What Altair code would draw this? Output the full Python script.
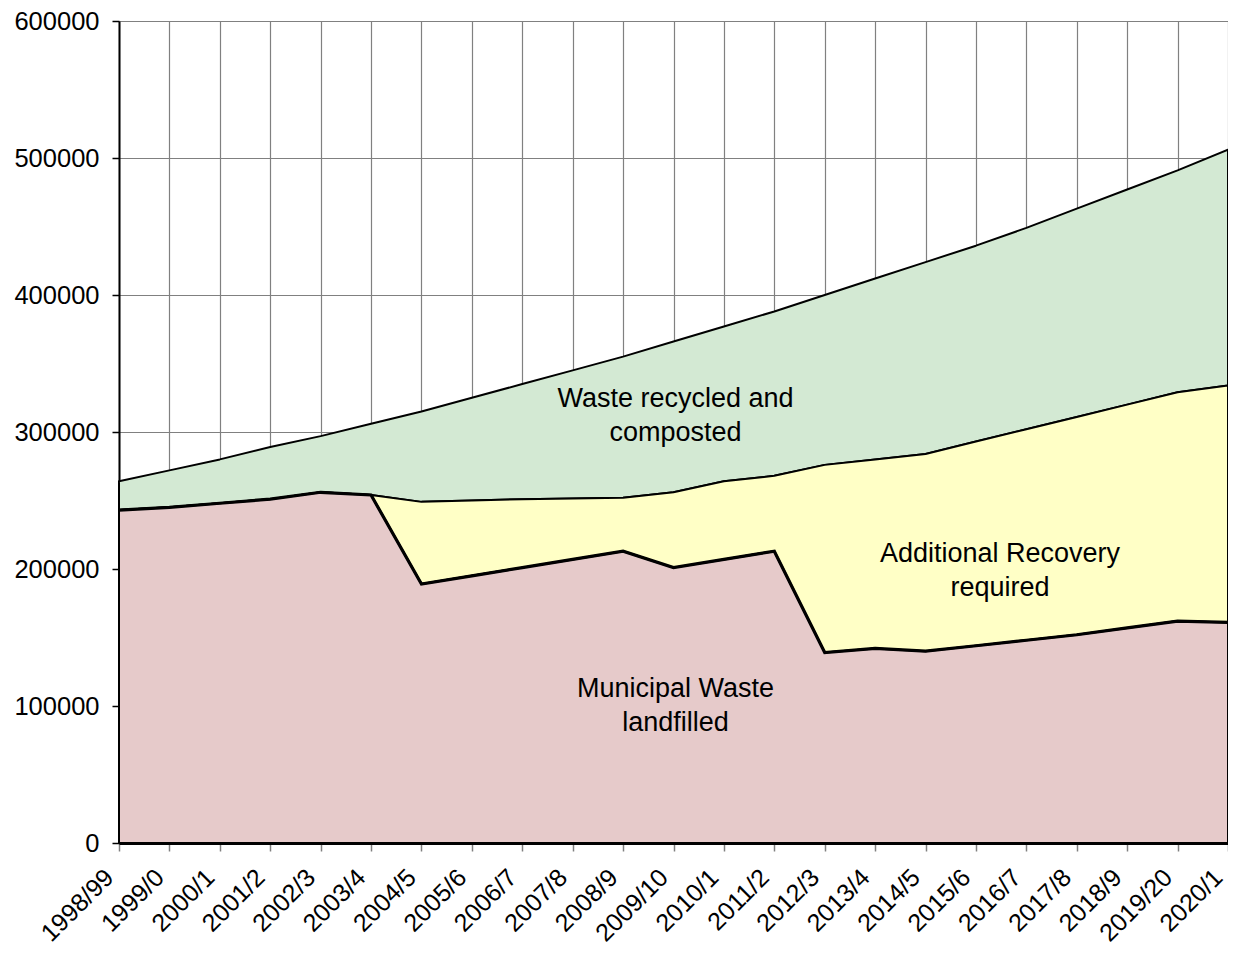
import altair as alt
import pandas as pd

years = ["1998/99", "1999/0", "2000/1", "2001/2", "2002/3", "2003/4", "2004/5",
         "2005/6", "2006/7", "2007/8", "2008/9", "2009/10", "2010/1", "2011/2",
         "2012/3", "2013/4", "2014/5", "2015/6", "2016/7", "2017/8", "2018/9",
         "2019/20", "2020/1"]

# Municipal waste landfilled
landfilled = [243000, 245000, 248000, 251000, 256000, 254000, 189000,
              195000, 201000, 207000, 213000, 201000, 207000, 213000,
              139000, 142000, 140000, 144000, 148000, 152000, 157000,
              162000, 161000]

# Landfilled + additional recovery required
recovery_top = [243000, 245000, 248000, 251000, 256000, 254000, 249000,
                250000, 251000, 251500, 252000, 256000, 264000, 268000,
                276000, 280000, 284000, 293000, 302000, 311000, 320000,
                329000, 334000]

# Total municipal waste (top of recycled and composted)
total = [264000, 272000, 280000, 289000, 297000, 306000, 315000,
         325000, 335000, 345000, 355000, 366000, 377000, 388000,
         400000, 412000, 424000, 436000, 449000, 463000, 477000,
         491000, 506000]

label_years = ["2009/10", "2015/6", "2009/10"]
label_values = [324400, 211000, 112700]
label_texts = ["Waste recycled and\ncomposted", "Additional Recovery\nrequired",
               "Municipal Waste\nlandfilled"]
label_dx = [2, 24, 2]

df = pd.DataFrame({"year": years, "landfilled": landfilled,
                   "recovery_top": recovery_top, "total": total})
lab = pd.DataFrame({"year": label_years, "value": label_values,
                    "text": label_texts, "dx": label_dx})

FONT = "Liberation Sans"

x = alt.X("year:O", sort=years,
          scale=alt.Scale(type="point", padding=0),
          axis=alt.Axis(title=None, labelAngle=-45, labelAlign="right",
                        labelBaseline="middle", labelFontSize=25,
                        labelFont=FONT, labelColor="black", labelPadding=22,
                        labelOffset=-10,
                        tickSize=8, tickColor="#808080", tickWidth=1.5,
                        domainColor="black", domainWidth=3,
                        grid=True, gridColor="#808080", gridWidth=1.2,
                        labelOverlap=False))

y_axis = alt.Axis(title=None, values=[0, 100000, 200000, 300000, 400000, 500000, 600000],
                  format="d", labelFontSize=25.5, labelFont=FONT, labelColor="black",
                  labelPadding=13, tickSize=7, tickColor="black", tickWidth=1.5,
                  domainColor="black", domainWidth=2,
                  grid=True, gridColor="#808080", gridWidth=1.2)
yscale = alt.Scale(domain=[0, 600000], nice=False)

base = alt.Chart(df)

green = base.mark_area(color="#d3e9d3", stroke="black", strokeWidth=2,
                       strokeJoin="round").encode(
    x=x, y=alt.Y("total:Q", scale=yscale, axis=y_axis), y2="recovery_top:Q")
yellow = base.mark_area(color="#ffffc6", stroke="black", strokeWidth=2,
                        strokeJoin="round").encode(
    x=x, y=alt.Y("recovery_top:Q", scale=yscale), y2="landfilled:Q")
pink = base.mark_area(color="#e6caca", stroke="black", strokeWidth=2,
                      strokeJoin="round").encode(
    x=x, y=alt.Y("landfilled:Q", scale=yscale))
pink_line = base.mark_line(color="black", strokeWidth=3.2).encode(
    x=x, y=alt.Y("landfilled:Q", scale=yscale))

texts = []
for i in range(len(label_texts)):
    t = alt.Chart(lab.iloc[[i]]).mark_text(
        font=FONT, fontSize=27, color="black", lineBreak="\n",
        lineHeight=34, align="center", baseline="middle",
        dx=label_dx[i]).encode(
        x=alt.X("year:O", sort=years, scale=alt.Scale(type="point", padding=0)),
        y=alt.Y("value:Q", scale=yscale), text="text:N")
    texts.append(t)

chart = alt.layer(green, yellow, pink, pink_line, *texts).properties(
    width=1109, height=822,
    autosize=alt.AutoSizeParams(type="none"),
    padding={"left": 111, "top": 13, "right": 0, "bottom": 107},
).configure_view(stroke=None).configure(background="white")

chart.save("out.html", embed_options={"renderer": "svg", "actions": False})
